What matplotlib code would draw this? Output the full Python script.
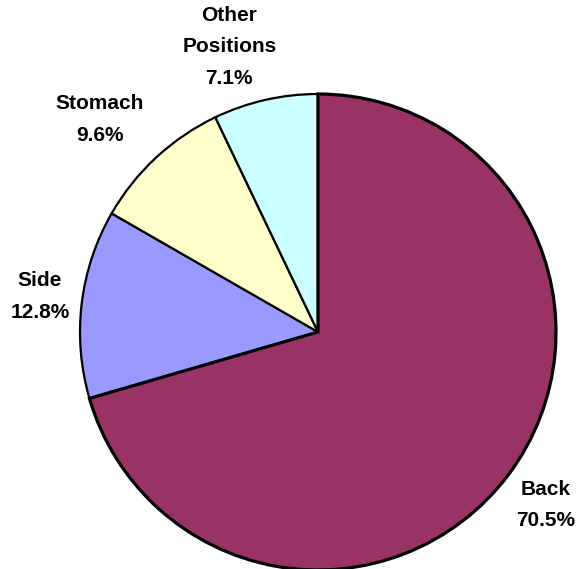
import numpy as np
import matplotlib
matplotlib.use('Agg')
import matplotlib.pyplot as plt

# data
labels = ['Back', 'Side', 'Stomach', 'Other\nPositions']
values = [70.5, 12.8, 9.6, 7.1]
colors = ['#993366', '#9999FF', '#FFFFCC', '#CCFFFF']

# label distance from centre (in radii) and small angular nudge (deg), per slice
lab_dist = [1.20, 1.177, 1.28, 1.255]
lab_shift = [-0.4, -0.4, 2.9, 4.5]

plt.rcParams['font.family'] = ['Liberation Sans', 'DejaVu Sans']

fig = plt.figure(figsize=(5.82, 5.69), dpi=100)
W, H = 582.0, 569.0
cx, cy, r = 318.0, 332.0, 238.0
ax = fig.add_axes([(cx - r) / W, (H - cy - r) / H, 2 * r / W, 2 * r / H])

wedges, _ = ax.pie(values, colors=colors, startangle=90, counterclock=False,
                   radius=1.0, wedgeprops=dict(edgecolor='black', linewidth=1.6))
for w in wedges:
    w.set_clip_on(False)
# back slice border a bit heavier, drawn on top
wedges[0].set_linewidth(2.3)
wedges[0].set_zorder(5)

ax.set_xlim(-1, 1)
ax.set_ylim(-1, 1)
ax.set_aspect('equal')
ax.axis('off')

tot = float(sum(values))
start = 90.0
for i, v in enumerate(values):
    span = v / tot * 360.0
    mid = np.deg2rad(start - span / 2 + lab_shift[i])
    start -= span
    x = lab_dist[i] * np.cos(mid)
    y = lab_dist[i] * np.sin(mid)
    ax.text(x, y, '%s\n%.1f%%' % (labels[i], v), ha='center', va='center',
            fontsize=15, fontweight='bold', linespacing=1.85, clip_on=False)

fig.savefig('out.png', dpi=100)
